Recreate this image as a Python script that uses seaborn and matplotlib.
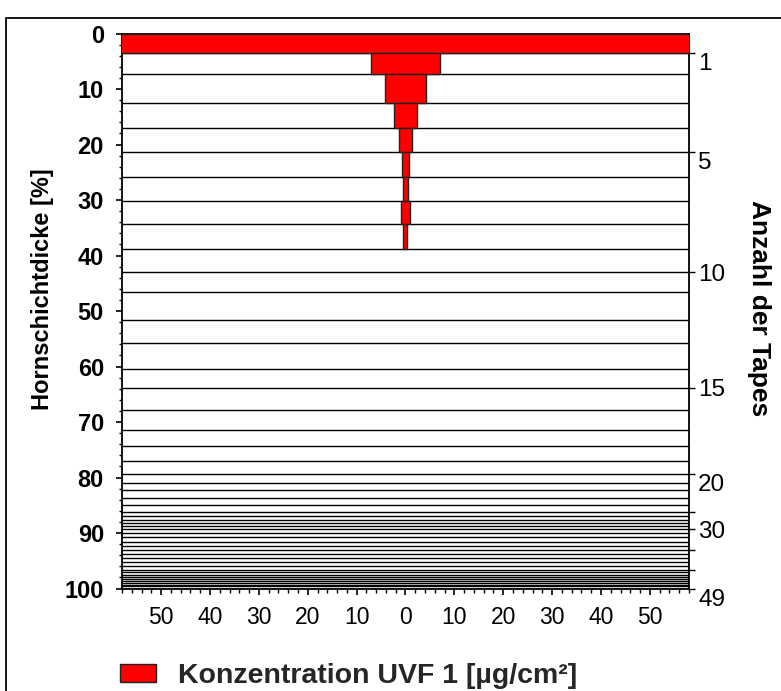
import numpy as np
import pandas as pd
import seaborn as sns
import matplotlib
matplotlib.use("Agg")
import matplotlib.pyplot as plt
from matplotlib.patches import Rectangle, Patch

# ---- data ----
tape_numbers = list(range(1, 50))
# cumulative stratum corneum thickness [%] at the lower edge of each tape
tape_bottom_pct = [3.45, 7.36, 12.6, 17.1, 21.4, 25.8, 30.1, 34.3, 38.8, 43.0,
                   46.5, 51.6, 55.8, 60.4, 63.8, 67.9, 71.4, 74.3, 77.0, 79.4,
                   81.0, 82.2, 83.6, 85.0, 86.3, 87.0, 87.6, 88.2, 88.8, 89.3,
                   90.0, 90.8, 91.6, 92.4, 93.1, 93.8, 94.5, 95.3, 96.0, 96.7,
                   97.1, 97.5, 97.9, 98.3, 98.7, 99.0, 99.3, 99.6, 100.0]
# concentration UVF 1 per tape [ug/cm2] (drawn symmetric around 0)
concentration = [80.0, 7.0, 4.2, 2.4, 1.26, 0.78, 0.58, 0.99, 0.41] + [0.0] * 40

right_ticks_tapes = [1, 5, 10, 15, 20, 25, 30, 35, 40, 49]
right_tick_labels = ["1", "5", "10", "15", "20", "", "30", "", "", "49"]
left_ticks = [0, 10, 20, 30, 40, 50, 60, 70, 80, 90, 100]
x_ticks = [-50, -40, -30, -20, -10, 0, 10, 20, 30, 40, 50]
x_tick_labels = ["50", "40", "30", "20", "10", "0", "10", "20", "30", "40", "50"]

ylabel_left = "Hornschichtdicke [%]"
ylabel_right = "Anzahl der Tapes"
legend_label = "Konzentration UVF 1 [µg/cm²]"

df = pd.DataFrame({"tape": tape_numbers, "bottom": tape_bottom_pct, "conc": concentration})
df["top"] = [0.0] + tape_bottom_pct[:-1]
df["thick"] = df["bottom"] - df["top"]
bars_df = df[df["conc"] > 0]

# ---- style ----
sns.set_theme(style="ticks")
plt.rcParams["font.family"] = ["Liberation Sans", "DejaVu Sans"]

fig = plt.figure(figsize=(7.81, 6.91), dpi=100)
ax = fig.add_axes([0.1562, 0.1483, 0.7260, 0.8032])

# horizontal separators between tapes
ax.hlines(df["bottom"], -58, 58, colors="black", linewidth=1.0, zorder=2)

# bars
ax.barh(bars_df["top"], 2 * bars_df["conc"], left=-bars_df["conc"], height=bars_df["thick"],
        align="edge", color="#ff0000", edgecolor="#222222", linewidth=1.0, zorder=3)

ax.set_xlim(-58, 58)
ax.set_ylim(100, 0)
ax.set_facecolor("white")
for s in ax.spines.values():
    s.set_color("black")
    s.set_linewidth(1.3)

ax.set_yticks(left_ticks)
ax.set_yticks(np.arange(0, 101, 2), minor=True)
ax.set_xticks(x_ticks)
ax.set_xticklabels(x_tick_labels)
ax.set_xticks(np.arange(-58, 59, 2), minor=True)
ax.tick_params(axis="y", which="major", length=4, width=1.2, pad=9, labelsize=17, colors="black")
ax.tick_params(axis="y", which="minor", length=2.5, width=1.0, colors="black")
ax.tick_params(axis="x", which="major", length=4.5, width=1.2, pad=8, labelsize=16.5, colors="black")
ax.tick_params(axis="x", which="minor", length=3, width=1.0, colors="black")
for lbl in ax.get_yticklabels():
    lbl.set_fontweight("bold")

ax.set_ylabel(ylabel_left, fontsize=17, fontweight="bold", color="black")
ax.yaxis.set_label_coords(-0.12, 0.54)

# right axis: number of tapes
ax2 = ax.twinx()
ax2.set_ylim(100, 0)
ax2.set_yticks([tape_bottom_pct[n - 1] for n in right_ticks_tapes])
ax2.set_yticklabels(right_tick_labels)
ax2.tick_params(axis="y", length=4.5, width=1.0, pad=2, labelsize=17.5, colors="black")
for lbl, n in zip(ax2.get_yticklabels(), right_ticks_tapes):
    if n in (1, 5, 20, 49):
        lbl.set_va("top")
ax2.set_ylabel(ylabel_right, fontsize=19, fontweight="bold", rotation=-90, color="black")
ax2.yaxis.set_label_coords(1.145, 0.505)
for s in ax2.spines.values():
    s.set_visible(False)
ax2.grid(False)

# legend
handle = Patch(facecolor="#ff0000", edgecolor="#222222", linewidth=1.0)
leg = fig.legend([handle], [legend_label], loc="center left",
                 bbox_to_anchor=(0.1537, 0.022), frameon=False,
                 prop={"size": 20.5, "weight": "bold"}, handlelength=1.25,
                 handleheight=0.6, handletextpad=0.78, borderpad=0, borderaxespad=0)

# outer frame (top and left edge visible)
fig.patches.append(Rectangle((6 / 781, -0.05), 1.2, 1 - 18 / 691 + 0.05,
                             transform=fig.transFigure, fill=False,
                             edgecolor="black", linewidth=1.3))

fig.savefig("out.png", dpi=100, facecolor="white")
